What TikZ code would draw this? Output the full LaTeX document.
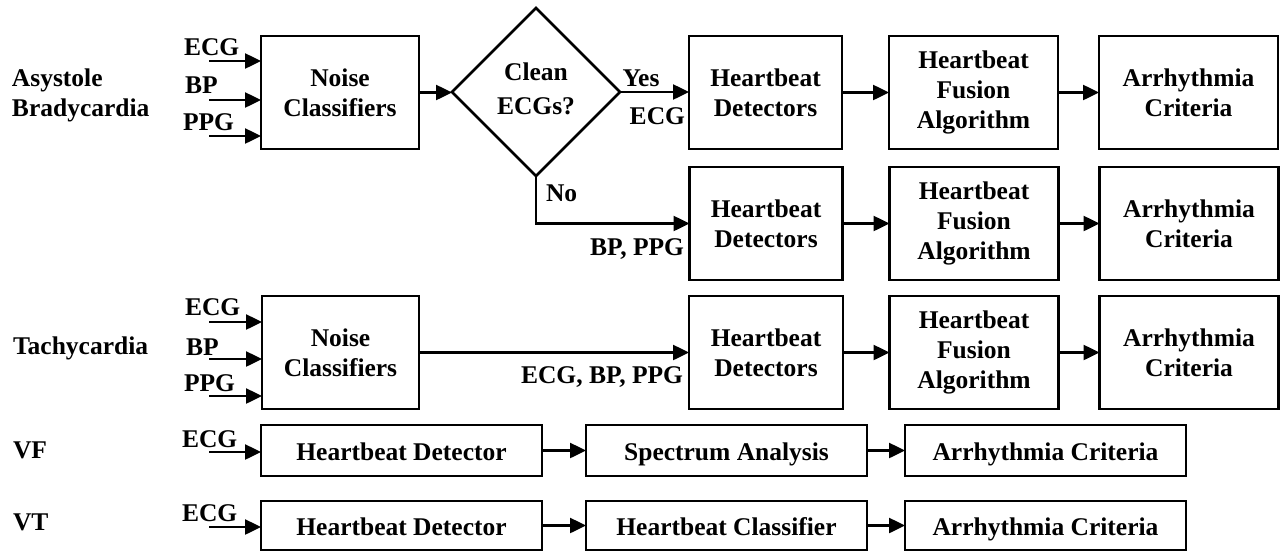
\documentclass[tikz,border=0pt]{standalone}
\usepackage{fontspec}
\setmainfont{Liberation Serif}
\usetikzlibrary{arrows.meta,shapes.geometric}
\begin{document}
\begin{tikzpicture}[x=1pt,y=-1pt,
  every node/.style={font=\fontsize{25.5}{30}\selectfont\bfseries, inner sep=0pt, outer sep=0pt},
  box/.style={draw, line width=2.5pt, align=center},
  sbox/.style={draw, line width=2.5pt, text height=22pt, text depth=2pt},
  lbl/.style={align=left},
  arr/.style={line width=2.5pt, -{Triangle[length=16pt,width=15pt]}},
  ln/.style={line width=2.5pt}]
\useasboundingbox (0,0) rectangle (1280,552);
% ---- Row 1 ----
\node[lbl, anchor=west] (asy) at (12,95) {Asystole\\Bradycardia};
\node[anchor=west] (e1) at (184,47) {ECG};
\node[anchor=west] (b1) at (185,85) {BP};
\node[anchor=west] (p1) at (183,122) {PPG};
\node[box, minimum width=158pt, minimum height=113pt] (nc1) at (340,92.5) {Noise\\Classifiers};
\coordinate (ie1) at (209,61);
\coordinate (ib1) at (209,100);
\coordinate (ip1) at (209,136);
\draw[arr] (ie1) -- (ie1 -| nc1.west);
\draw[arr] (ib1) -- (ib1 -| nc1.west);
\draw[arr] (ip1) -- (ip1 -| nc1.west);
\node[draw, line width=2.5pt, diamond, aspect=1, minimum width=168pt, minimum height=168pt] (dia) at (536,92) {};
\node[align=center, font=\fontsize{25.5}{34}\selectfont\bfseries] (diat) at (536,89) {Clean\\ECGs?};
\draw[arr] (nc1.east) -- (nc1.east -| dia.west);
\node[box, minimum width=153pt, minimum height=113pt] (hd1) at (765.5,92.5) {Heartbeat\\Detectors};
\node[box, minimum width=169pt, minimum height=113pt] (hf1) at (973.5,92.5) {Heartbeat\\Fusion\\Algorithm};
\node[box, minimum width=179pt, minimum height=113pt] (ac1) at (1188.5,92.5) {Arrhythmia\\Criteria};
\draw[arr] (dia.east) -- (dia.east -| hd1.west);
\node (yes) at (641,78) {Yes};
\node[anchor=east] (ecgy) at (685,116) {ECG};
\draw[arr] (hd1.east) -- (hd1.east -| hf1.west);
\draw[arr] (hf1.east) -- (hf1.east -| ac1.west);
% ---- Row 2 ----
\node[box, minimum width=153pt, minimum height=113pt] (hd2) at (766,223.5) {Heartbeat\\Detectors};
\node[box, minimum width=169pt, minimum height=113pt] (hf2) at (974,223.5) {Heartbeat\\Fusion\\Algorithm};
\node[box, minimum width=179pt, minimum height=113pt] (ac2) at (1189,223.5) {Arrhythmia\\Criteria};
\draw[ln] (dia.south) |- ([xshift=-30pt]hd2.west);
\draw[arr] (dia.south |- hd2.west) -- (hd2.west);
\node[anchor=west] (no) at (546,193) {No};
\node[anchor=east] (bpppg) at (684,249) {BP, PPG};
\draw[arr] (hd2.east) -- (hf2.west);
\draw[arr] (hf2.east) -- (ac2.west);
% ---- Row 3 ----
\node[anchor=west] (tach) at (13,348) {Tachycardia};
\node[anchor=west] (e3) at (185,307) {ECG};
\node[anchor=west] (b3) at (186,347) {BP};
\node[anchor=west] (p3) at (184,383) {PPG};
\node[box, minimum width=157pt, minimum height=113pt] (nc3) at (340.5,352.5) {Noise\\Classifiers};
\coordinate (ie3) at (209,322);
\coordinate (ib3) at (209,359);
\coordinate (ip3) at (209,396);
\draw[arr] (ie3) -- (ie3 -| nc3.west);
\draw[arr] (ib3) -- (ib3 -| nc3.west);
\draw[arr] (ip3) -- (ip3 -| nc3.west);
\node[box, minimum width=154pt, minimum height=113pt] (hd3) at (766,352.5) {Heartbeat\\Detectors};
\node[box, minimum width=169pt, minimum height=113pt] (hf3) at (974,352.5) {Heartbeat\\Fusion\\Algorithm};
\node[box, minimum width=179pt, minimum height=113pt] (ac3) at (1189,352.5) {Arrhythmia\\Criteria};
\draw[arr] (nc3.east) -- (hd3.west);
\node[anchor=east] (ebp) at (683,377) {ECG, BP, PPG};
\draw[arr] (hd3.east) -- (hf3.west);
\draw[arr] (hf3.east) -- (ac3.west);
% ---- VF ----
\node[anchor=west] (vf) at (13,450) {VF};
\node[anchor=west] (e4) at (182,439) {ECG};
\node[sbox, minimum width=281pt, minimum height=51pt] (hd4) at (401.5,450.5) {Heartbeat Detector};
\node[sbox, minimum width=281pt, minimum height=51pt] (sa4) at (726.5,450.5) {Spectrum Analysis};
\node[sbox, minimum width=281pt, minimum height=51pt] (ac4) at (1045.5,450.5) {Arrhythmia Criteria};
\coordinate (ie4) at (209,452);
\draw[arr] (ie4) -- (ie4 -| hd4.west);
\draw[arr] (hd4.east) -- (sa4.west);
\draw[arr] (sa4.east) -- (ac4.west);
% ---- VT ----
\node[anchor=west] (vt) at (13,522) {VT};
\node[anchor=west] (e5) at (182,513) {ECG};
\node[sbox, minimum width=281pt, minimum height=49pt] (hd5) at (401.5,525.5) {Heartbeat Detector};
\node[sbox, minimum width=281pt, minimum height=49pt] (hc5) at (726.5,525.5) {Heartbeat Classifier};
\node[sbox, minimum width=281pt, minimum height=49pt] (ac5) at (1045.5,525.5) {Arrhythmia Criteria};
\coordinate (ie5) at (209,527);
\draw[arr] (ie5) -- (ie5 -| hd5.west);
\draw[arr] (hd5.east) -- (hc5.west);
\draw[arr] (hc5.east) -- (ac5.west);
\end{tikzpicture}
\end{document}
